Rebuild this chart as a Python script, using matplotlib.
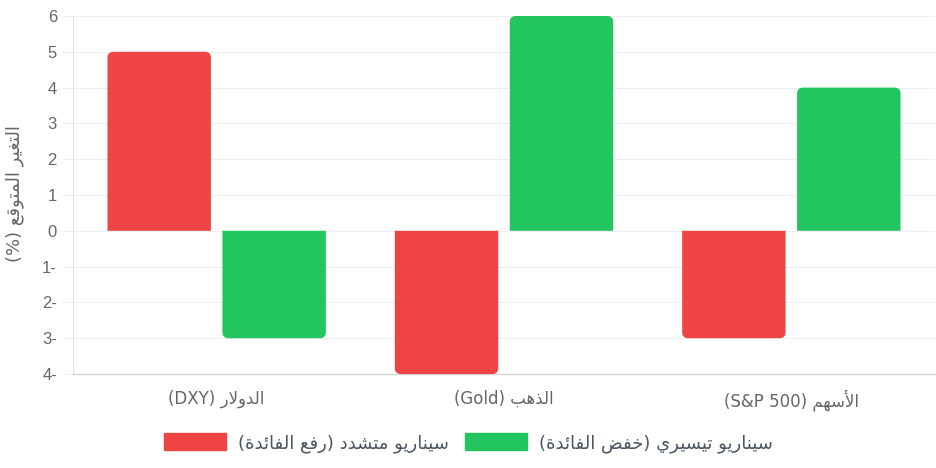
import re
import numpy as np
import matplotlib
matplotlib.use("Agg")
import matplotlib.pyplot as plt
from matplotlib.patches import PathPatch, Patch
from matplotlib.path import Path
from matplotlib.ticker import FuncFormatter

# ---------------- data ----------------
categories = ["الدولار (DXY)", "الذهب (Gold)", "الأسهم (S&P 500)"]
series_names = ["سيناريو متشدد (رفع الفائدة)", "سيناريو تيسيري (خفض الفائدة)"]
hawkish = [5, -4, -3]
dovish = [-3, 6, 4]
y_label = "التغير المتوقع (%)"
y_ticks = [-4, -3, -2, -1, 0, 1, 2, 3, 4, 5, 6]

RED = "#EF4444"
GREEN = "#22C55E"

# ---------------- minimal Arabic shaping + RTL ordering ----------------
def _dual(start):
    return (start, start + 1, start + 2, start + 3)

AR_FORMS = {
    'ء': (0xFE80,), 'آ': (0xFE81, 0xFE82), 'أ': (0xFE83, 0xFE84),
    'ؤ': (0xFE85, 0xFE86), 'إ': (0xFE87, 0xFE88), 'ئ': _dual(0xFE89),
    'ا': (0xFE8D, 0xFE8E), 'ب': _dual(0xFE8F), 'ة': (0xFE93, 0xFE94),
    'ت': _dual(0xFE95), 'ث': _dual(0xFE99), 'ج': _dual(0xFE9D),
    'ح': _dual(0xFEA1), 'خ': _dual(0xFEA5), 'د': (0xFEA9, 0xFEAA),
    'ذ': (0xFEAB, 0xFEAC), 'ر': (0xFEAD, 0xFEAE), 'ز': (0xFEAF, 0xFEB0),
    'س': _dual(0xFEB1), 'ش': _dual(0xFEB5), 'ص': _dual(0xFEB9),
    'ض': _dual(0xFEBD), 'ط': _dual(0xFEC1), 'ظ': _dual(0xFEC5),
    'ع': _dual(0xFEC9), 'غ': _dual(0xFECD), 'ف': _dual(0xFED1),
    'ق': _dual(0xFED5), 'ك': _dual(0xFED9), 'ل': _dual(0xFEDD),
    'م': _dual(0xFEE1), 'ن': _dual(0xFEE5), 'ه': _dual(0xFEE9),
    'و': (0xFEED, 0xFEEE), 'ى': (0xFEEF, 0xFEF0), 'ي': _dual(0xFEF1),
}
LAM_ALEF = {'ا': (0xFEFB, 0xFEFC), 'أ': (0xFEF7, 0xFEF8),
            'إ': (0xFEF9, 0xFEFA), 'آ': (0xFEF5, 0xFEF6)}


def shape(s):
    units = []
    i = 0
    while i < len(s):
        c = s[i]
        if c == 'ل' and i + 1 < len(s) and s[i + 1] in LAM_ALEF:
            units.append(('LA', s[i + 1]))
            i += 2
        else:
            units.append(c)
            i += 1

    def joins(u):
        return isinstance(u, tuple) or u in AR_FORMS

    def dual(u):
        return (not isinstance(u, tuple)) and u in AR_FORMS and len(AR_FORMS[u]) == 4

    out = []
    for k, u in enumerate(units):
        prev = units[k - 1] if k > 0 else None
        nxt = units[k + 1] if k + 1 < len(units) else None
        jp = prev is not None and dual(prev) and joins(u)
        jn = nxt is not None and dual(u) and joins(nxt)
        if isinstance(u, tuple):
            iso, fin = LAM_ALEF[u[1]]
            out.append(chr(fin if jp else iso))
        elif u in AR_FORMS:
            f = AR_FORMS[u]
            if len(f) == 4:
                idx = 3 if (jp and jn) else 2 if jn else 1 if jp else 0
            elif len(f) == 2:
                idx = 1 if jp else 0
            else:
                idx = 0
            out.append(chr(f[idx]))
        else:
            out.append(u)
    return ''.join(out)


LATIN = re.compile(r'[A-Za-z0-9][A-Za-z0-9&.\s]*[A-Za-z0-9]|[A-Za-z0-9]')
MIRROR = str.maketrans('()', ')(')


def rtl(s):
    s = shape(s)
    parts = []
    pos = 0
    for m in LATIN.finditer(s):
        if m.start() > pos:
            parts.append((False, s[pos:m.start()]))
        parts.append((True, m.group()))
        pos = m.end()
    if pos < len(s):
        parts.append((False, s[pos:]))
    out = []
    for is_l, t in reversed(parts):
        out.append(t if is_l else t[::-1].translate(MIRROR))
    return ''.join(out)


# ---------------- figure ----------------
W, H = 937, 468
fig = plt.figure(figsize=(W / 100, H / 100), dpi=100)
ax = fig.add_axes([73 / W, 1 - 374 / H, (935 - 73) / W, (374 - 16) / H])

x = np.arange(len(categories))
group = 0.8
bw = group / 2 * 0.9
b1 = ax.bar(x - group / 4, hawkish, bw, color=RED, zorder=3)
b2 = ax.bar(x + group / 4, dovish, bw, color=GREEN, zorder=3)

ax.set_xlim(-0.5, len(categories) - 0.5)
ax.set_ylim(min(y_ticks), max(y_ticks))
ax.set_yticks(y_ticks)
ax.yaxis.set_major_formatter(FuncFormatter(lambda v, p: f"{int(abs(v))}-" if v < 0 else f"{int(v)}"))
ax.set_xticks(x)
ax.set_xticklabels([rtl(c) for c in categories], fontfamily="DejaVu Sans",
                   fontsize=12, color="#666666")


# rounded bar ends (non-base end only), radius in pixels -> single path per bar
def round_bars(container, color, radius_px=6):
    p0 = ax.transData.transform((0, 0))
    px_x = ax.transData.transform((1, 0))[0] - p0[0]
    px_y = ax.transData.transform((0, 1))[1] - p0[1]
    rx = radius_px / px_x
    ry = radius_px / px_y
    for rect in container:
        xl = rect.get_x()
        xr = xl + rect.get_width()
        y0 = rect.get_y()
        y1 = y0 + rect.get_height()
        s = 1 if y1 >= y0 else -1
        verts = [(xl, y0), (xl, y1 - s * ry), (xl, y1), (xl + rx, y1),
                 (xr - rx, y1), (xr, y1), (xr, y1 - s * ry), (xr, y0), (xl, y0)]
        codes = [Path.MOVETO, Path.LINETO, Path.CURVE3, Path.CURVE3,
                 Path.LINETO, Path.CURVE3, Path.CURVE3, Path.LINETO, Path.CLOSEPOLY]
        ax.add_patch(PathPatch(Path(verts, codes), fc=color, ec="none", zorder=3))
        rect.set_visible(False)


round_bars(b1, RED)
round_bars(b2, GREEN)

# grid / spines / ticks
ax.grid(axis="y", color="#eceef3", linewidth=0.8, zorder=0)
ax.set_axisbelow(True)
for sp in ["top", "right"]:
    ax.spines[sp].set_visible(False)
ax.spines["left"].set_color("#e2e3e8")
ax.spines["left"].set_linewidth(0.8)
ax.spines["bottom"].set_color("#d4d5da")
ax.spines["bottom"].set_linewidth(1.0)
ax.tick_params(axis="y", length=8, width=0.8, color="#eceef3", pad=3.6,
               labelsize=12, labelcolor="#666666")
for t in ax.get_yticklabels():
    t.set_fontfamily("Liberation Sans")
ax.tick_params(axis="x", length=0, pad=11)

fig.text(15 / W, 1 - 194 / H, rtl(y_label), rotation=90, ha="center", va="center",
         fontsize=13, color="#666666", fontfamily="DejaVu Sans")

handles = [Patch(fc=RED, ec=RED), Patch(fc=GREEN, ec=GREEN)]
leg = fig.legend(handles, [rtl(s) for s in series_names], loc="center",
                 bbox_to_anchor=(0.5, 1 - 443 / H), ncol=2, frameon=False,
                 handlelength=3.43, handleheight=1.05, handletextpad=0.66,
                 columnspacing=0.94, prop={"family": "DejaVu Sans", "size": 13})
for t in leg.get_texts():
    t.set_color("#4b5563")

fig.savefig("out.png", dpi=100)
